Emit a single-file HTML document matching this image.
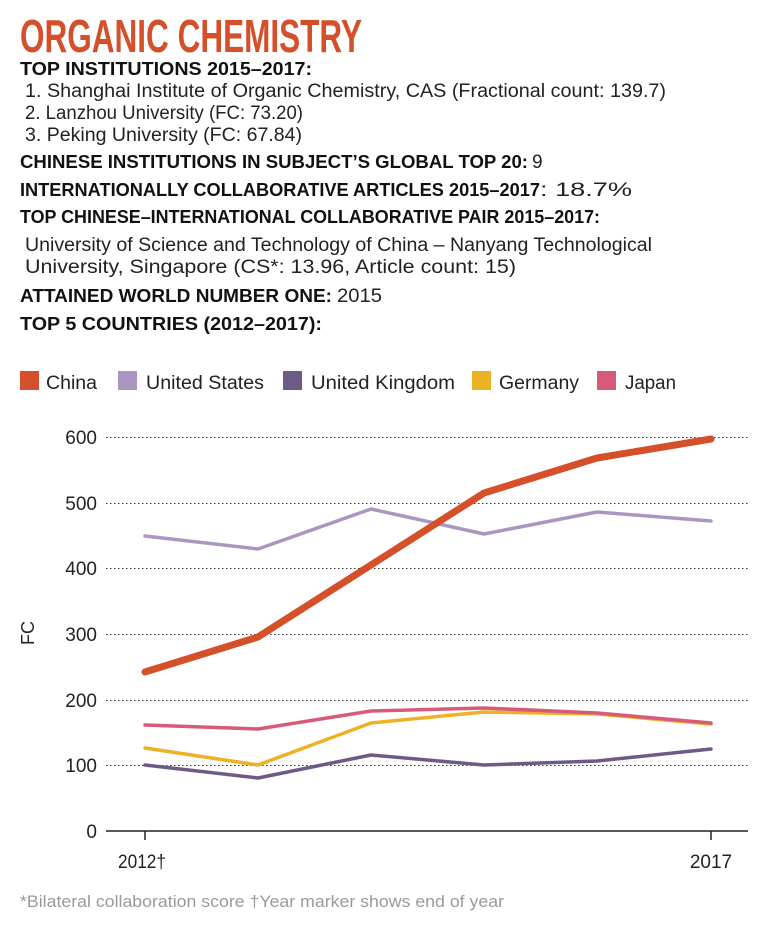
<!DOCTYPE html>
<html><head><meta charset="utf-8"><style>
html,body{margin:0;padding:0;background:#fff}
svg{display:block}
text{font-family:"Liberation Sans",sans-serif}
.h{font-weight:bold;font-size:18px;fill:#111}
.b{font-size:19px;fill:#222}
.t{font-size:19px;fill:#222}
</style></head><body>
<svg width="767" height="929" viewBox="0 0 767 929" xmlns="http://www.w3.org/2000/svg">
<text x="20" y="52" font-size="46" font-weight="bold" fill="#d4502a" textLength="342" lengthAdjust="spacingAndGlyphs">ORGANIC CHEMISTRY</text>
<text class="h" x="20" y="75" textLength="292" lengthAdjust="spacingAndGlyphs">TOP INSTITUTIONS 2015–2017:</text>
<text class="b" x="25" y="97" textLength="641" lengthAdjust="spacingAndGlyphs">1. Shanghai Institute of Organic Chemistry, CAS (Fractional count: 139.7)</text>
<text class="b" x="25" y="119" textLength="278" lengthAdjust="spacingAndGlyphs">2. Lanzhou University (FC: 73.20)</text>
<text class="b" x="25" y="141" textLength="277" lengthAdjust="spacingAndGlyphs">3. Peking University (FC: 67.84)</text>
<text class="h" x="20" y="168" textLength="508" lengthAdjust="spacingAndGlyphs">CHINESE INSTITUTIONS IN SUBJECT’S GLOBAL TOP 20:</text>
<text class="b" x="532" y="168">9</text>
<text class="h" x="20" y="196" textLength="520" lengthAdjust="spacingAndGlyphs">INTERNATIONALLY COLLABORATIVE ARTICLES 2015–2017</text>
<text class="b" x="540" y="196" textLength="92" lengthAdjust="spacingAndGlyphs">: 18.7%</text>
<text class="h" x="20" y="223" textLength="580" lengthAdjust="spacingAndGlyphs">TOP CHINESE–INTERNATIONAL COLLABORATIVE PAIR 2015–2017:</text>
<text class="b" x="25" y="251" textLength="627" lengthAdjust="spacingAndGlyphs">University of Science and Technology of China – Nanyang Technological</text>
<text class="b" x="25" y="273" textLength="491" lengthAdjust="spacingAndGlyphs">University, Singapore (CS*: 13.96, Article count: 15)</text>
<text class="h" x="20" y="302" textLength="312" lengthAdjust="spacingAndGlyphs">ATTAINED WORLD NUMBER ONE:</text>
<text class="b" x="337" y="302" textLength="45" lengthAdjust="spacingAndGlyphs">2015</text>
<text class="h" x="20" y="330" textLength="302" lengthAdjust="spacingAndGlyphs">TOP 5 COUNTRIES (2012–2017):</text>
<rect x="20" y="371" width="19" height="19" fill="#d4502a"/>
<text class="t" x="46" y="389" textLength="51" lengthAdjust="spacingAndGlyphs">China</text>
<rect x="118" y="371" width="19" height="19" fill="#a997c2"/>
<text class="t" x="146" y="389" textLength="118" lengthAdjust="spacingAndGlyphs">United States</text>
<rect x="283" y="371" width="19" height="19" fill="#6d5a86"/>
<text class="t" x="311" y="389" textLength="144" lengthAdjust="spacingAndGlyphs">United Kingdom</text>
<rect x="472" y="371" width="19" height="19" fill="#edb125"/>
<text class="t" x="499" y="389" textLength="80" lengthAdjust="spacingAndGlyphs">Germany</text>
<rect x="597" y="371" width="19" height="19" fill="#d85a7a"/>
<text class="t" x="625" y="389" textLength="51" lengthAdjust="spacingAndGlyphs">Japan</text>
<g stroke="#333" stroke-width="1" stroke-dasharray="1.5,2.5">
<line x1="106" x2="748" y1="437.5" y2="437.5"/>
<line x1="106" x2="748" y1="503.5" y2="503.5"/>
<line x1="106" x2="748" y1="568.5" y2="568.5"/>
<line x1="106" x2="748" y1="634.5" y2="634.5"/>
<line x1="106" x2="748" y1="700.5" y2="700.5"/>
<line x1="106" x2="748" y1="765.5" y2="765.5"/>
</g>
<line x1="106" x2="748" y1="831" y2="831" stroke="#222" stroke-width="1.5"/>
<line x1="145" x2="145" y1="831" y2="840" stroke="#222" stroke-width="1.5"/>
<line x1="711" x2="711" y1="831" y2="840" stroke="#222" stroke-width="1.5"/>
<g text-anchor="end" font-size="19" fill="#222">
<text x="97" y="444">600</text><text x="97" y="510">500</text><text x="97" y="575">400</text>
<text x="97" y="641">300</text><text x="97" y="707">200</text><text x="97" y="772">100</text><text x="97" y="838">0</text>
</g>
<text x="34" y="633" font-size="18" fill="#222" text-anchor="middle" transform="rotate(-90 34 633)">FC</text>
<text x="118" y="868" font-size="19" fill="#222" textLength="48" lengthAdjust="spacingAndGlyphs">2012†</text>
<text x="711" y="868" font-size="19" fill="#222" text-anchor="middle">2017</text>
<g fill="none" stroke-linejoin="round" stroke-linecap="round">
<polyline stroke="#6d5a86" stroke-width="3.5" points="145,765 258,778 371,755 484,765 597,761 711,749"/>
<polyline stroke="#edb125" stroke-width="3.5" points="145,748 258,765 371,723 484,712 597,714 711,724"/>
<polyline stroke="#d85a7a" stroke-width="3.5" points="145,725 258,729 371,711 484,708 597,713 711,723"/>
<polyline stroke="#a997c2" stroke-width="3.5" points="145,536 258,549 371,509 484,534 597,512 711,521"/>
<polyline stroke="#d4502a" stroke-width="7" points="145,672 258,637 371,565 484,493 597,458 711,439"/>
</g>
<text x="20" y="907" font-size="17" fill="#9a9a9a" textLength="484" lengthAdjust="spacingAndGlyphs">*Bilateral collaboration score †Year marker shows end of year</text>
</svg>
</body></html>
